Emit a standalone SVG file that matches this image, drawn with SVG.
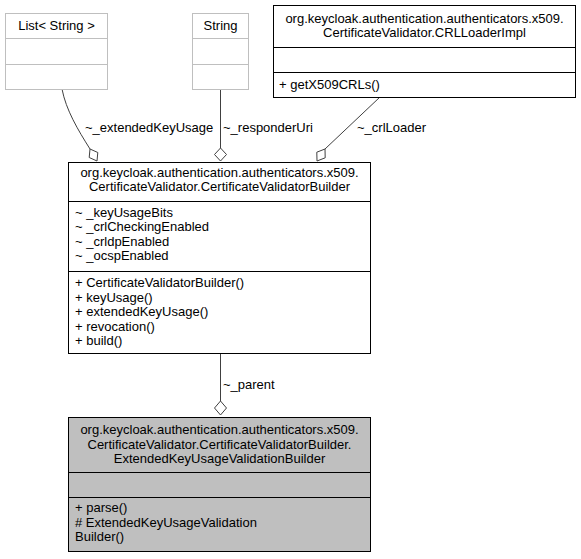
<svg xmlns="http://www.w3.org/2000/svg" width="581" height="559" viewBox="0 0 581 559">
<style>
text { font-family: "Liberation Sans", Arial, sans-serif; font-size: 13px; fill: #000; }
.c { text-anchor: middle; }
.box { fill: #fff; stroke: #000; stroke-width: 1; }
.ext { fill: #fff; stroke: #bfbfbf; stroke-width: 1; }
.main { fill: #bfbfbf; stroke: #000; stroke-width: 1; }
.sep { stroke: #000; stroke-width: 1; }
.sepx { stroke: #bfbfbf; stroke-width: 1; }
.edge { fill: none; stroke: #404040; stroke-width: 1; }
.dia { fill: #fff; stroke: #404040; stroke-width: 1; }
</style>
<rect width="581" height="559" fill="#fff"/>
<g id="connectors">
  <path class="edge" d="M62,89 C66,110 78,130 90,149"/>
  <polygon class="dia" points="90,149 97.8,152.5 97,161 89.2,157.5"/>
  <text x="85" y="132">~_extendedKeyUsage</text>
  <path class="edge" d="M220.5,89 L220.5,148"/>
  <polygon class="dia" points="220.5,148 226.5,154.5 220.5,161 214.5,154.5"/>
  <text x="223" y="132">~_responderUri</text>
  <path class="edge" d="M380,97 L325,149"/>
  <polygon class="dia" points="325,149 325.2,157.8 317,161 316.8,152.2"/>
  <text x="357" y="132">~_crlLoader</text>
  <path class="edge" d="M220.5,353 L220.5,401"/>
  <polygon class="dia" points="220.5,401 226.5,408 220.5,415 214.5,408"/>
  <text x="223" y="389">~_parent</text>
</g>
<g id="node-list">
  <rect class="ext" x="5.5" y="13.5" width="102" height="76"/>
  <line class="sepx" x1="5.5" y1="38.5" x2="107.5" y2="38.5"/>
  <line class="sepx" x1="5.5" y1="64.5" x2="107.5" y2="64.5"/>
  <text class="c" x="56.5" y="30">List&lt; String &gt;</text>
</g>
<g id="node-string">
  <rect class="ext" x="192.5" y="13.5" width="56" height="76"/>
  <line class="sepx" x1="192.5" y1="38.5" x2="248.5" y2="38.5"/>
  <line class="sepx" x1="192.5" y1="64.5" x2="248.5" y2="64.5"/>
  <text class="c" x="220.5" y="30">String</text>
</g>
<g id="node-crlloader">
  <rect class="box" x="273.5" y="5.5" width="302" height="92"/>
  <line class="sep" x1="273.5" y1="47.5" x2="575.5" y2="47.5"/>
  <line class="sep" x1="273.5" y1="72.5" x2="575.5" y2="72.5"/>
  <text class="c" x="424.5" y="22.5">org.keycloak.authentication.authenticators.x509.</text>
  <text class="c" x="424.5" y="37">CertificateValidator.CRLLoaderImpl</text>
  <text x="279" y="88.5">+ getX509CRLs()</text>
</g>
<g id="node-builder">
  <rect class="box" x="68.5" y="162.5" width="302" height="191"/>
  <line class="sep" x1="68.5" y1="201.5" x2="370.5" y2="201.5"/>
  <line class="sep" x1="68.5" y1="271.5" x2="370.5" y2="271.5"/>
  <text class="c" x="219.5" y="176.5">org.keycloak.authentication.authenticators.x509.</text>
  <text class="c" x="219.5" y="191">CertificateValidator.CertificateValidatorBuilder</text>
  <text x="75" y="216.5">~ _keyUsageBits</text>
  <text x="75" y="231">~ _crlCheckingEnabled</text>
  <text x="75" y="245.5">~ _crldpEnabled</text>
  <text x="75" y="260">~ _ocspEnabled</text>
  <text x="75" y="287">+ CertificateValidatorBuilder()</text>
  <text x="75" y="301.5">+ keyUsage()</text>
  <text x="75" y="316">+ extendedKeyUsage()</text>
  <text x="75" y="330.5">+ revocation()</text>
  <text x="75" y="345">+ build()</text>
</g>
<g id="node-ekubuilder">
  <rect class="main" x="68.5" y="417.5" width="302" height="134"/>
  <line class="sep" x1="68.5" y1="472.5" x2="370.5" y2="472.5"/>
  <line class="sep" x1="68.5" y1="497.5" x2="370.5" y2="497.5"/>
  <text class="c" x="219.5" y="434">org.keycloak.authentication.authenticators.x509.</text>
  <text class="c" x="219.5" y="448.5">CertificateValidator.CertificateValidatorBuilder.</text>
  <text class="c" x="219.5" y="463">ExtendedKeyUsageValidationBuilder</text>
  <text x="75" y="512">+ parse()</text>
  <text x="75" y="526.5">#  ExtendedKeyUsageValidation</text>
  <text x="75" y="541">Builder()</text>
</g>
</svg>
